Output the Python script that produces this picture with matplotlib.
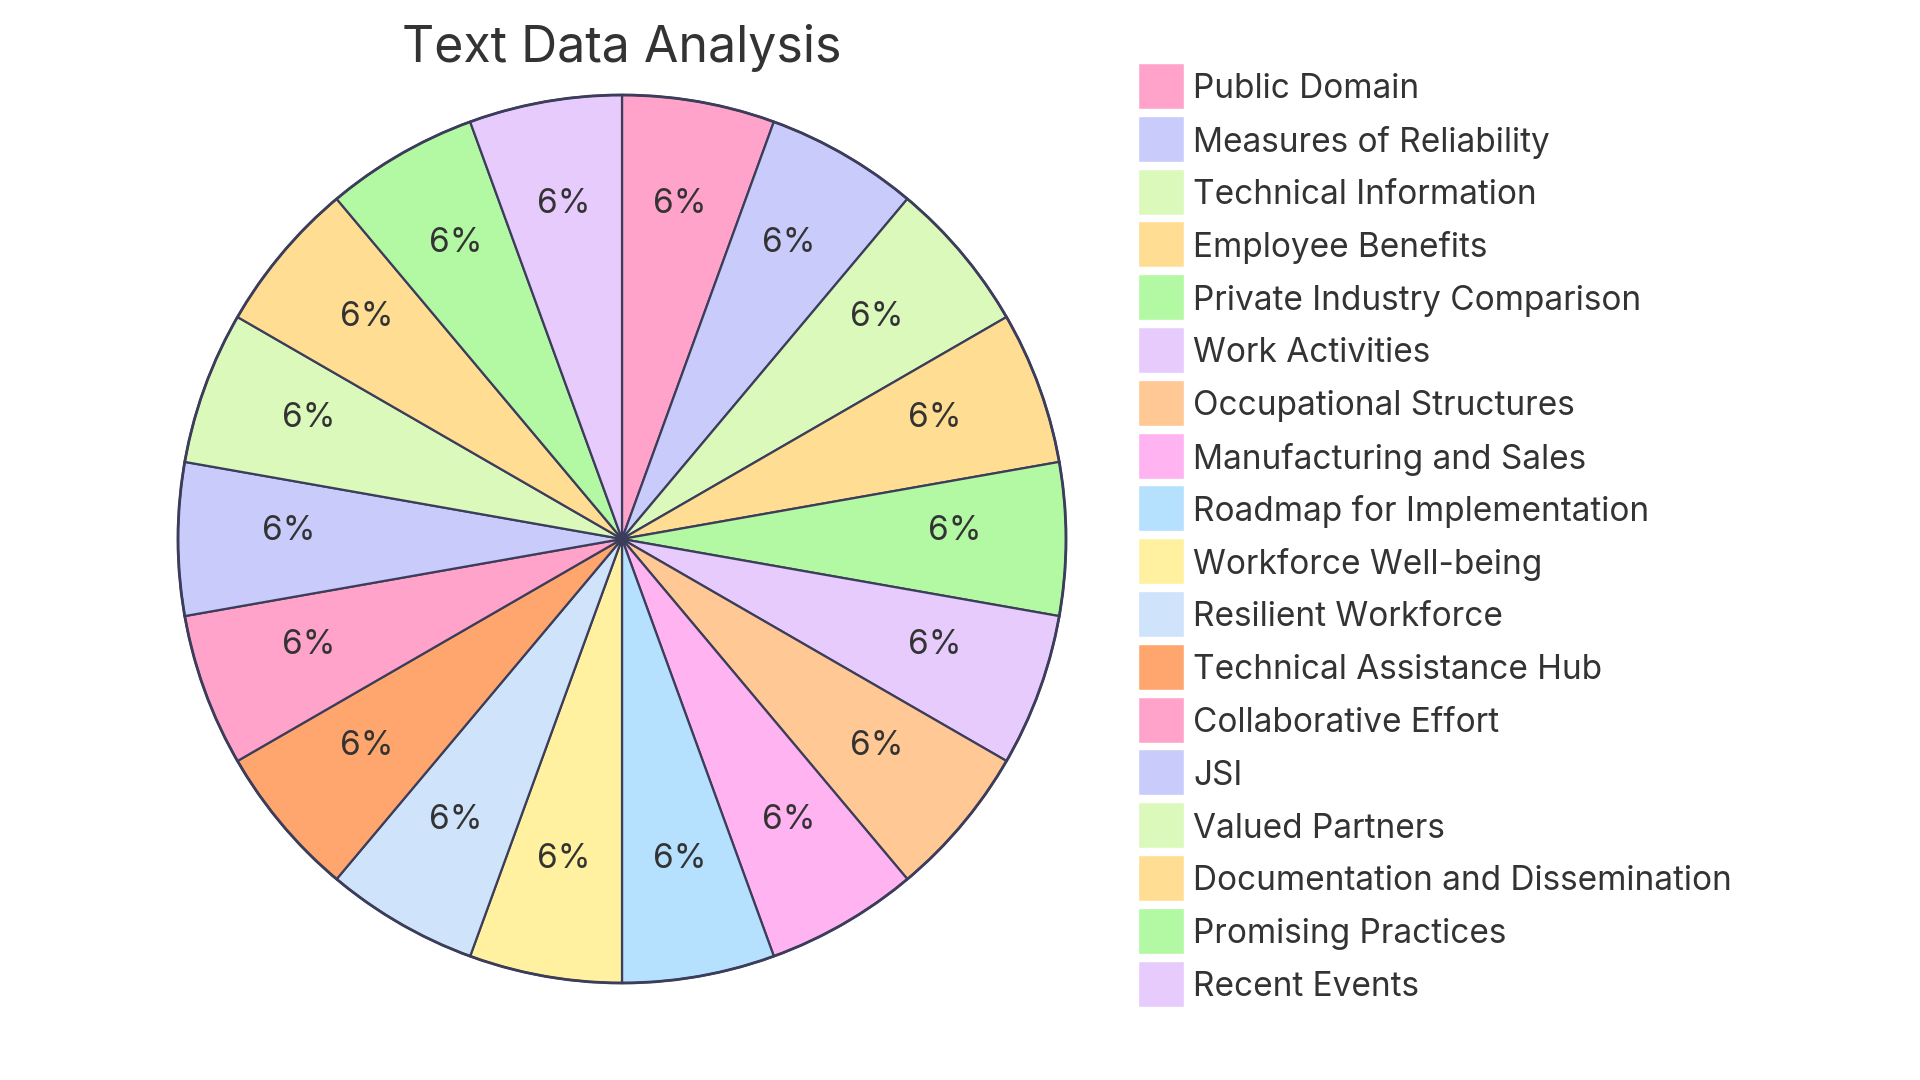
import matplotlib
matplotlib.use("Agg")
import matplotlib.pyplot as plt
from matplotlib.patches import Rectangle

categories = [
    "Public Domain", "Measures of Reliability", "Technical Information",
    "Employee Benefits", "Private Industry Comparison", "Work Activities",
    "Occupational Structures", "Manufacturing and Sales", "Roadmap for Implementation",
    "Workforce Well-being", "Resilient Workforce", "Technical Assistance Hub",
    "Collaborative Effort", "JSI", "Valued Partners",
    "Documentation and Dissemination", "Promising Practices", "Recent Events",
]
values = [1, 1, 1, 1, 1, 1, 1, 1, 1, 1, 1, 1, 1, 1, 1, 1, 1, 1]
colors = [
    "#FFA3CA", "#C9CBFB", "#DBF9BB", "#FFDD93", "#B3F8A2", "#E6CBFC",
    "#FFC895", "#FFB3F1", "#B5E0FE", "#FFF19F", "#CFE3FA", "#FFA66F",
    "#FFA3CA", "#C9CBFB", "#DBF9BB", "#FFDD93", "#B3F8A2", "#E6CBFC",
]
title = "Text Data Analysis"

FONT = ["Inter", "DejaVu Sans"]
TEXT = "#333333"
EDGE = "#3B3D5A"

W, H = 1920, 1080
fig = plt.figure(figsize=(19.2, 10.8), dpi=100)
fig.patch.set_facecolor("white")

cx, cy, R = 622, 539, 444
ax = fig.add_axes([(cx - R) / W, (H - cy - R) / H, 2 * R / W, 2 * R / H])
wedges, texts, autotexts = ax.pie(
    values, colors=colors, startangle=90, counterclock=False, radius=1.0,
    autopct=lambda p: f"{p:.0f}%", pctdistance=0.75,
    wedgeprops=dict(edgecolor=EDGE, linewidth=1.6),
    textprops=dict(fontsize=24, color=TEXT, family=FONT),
)
for t in autotexts:
    x, y = t.get_position()
    t.set_position((x, y + 7.5 / R))
ax.set_xlim(-1, 1)
ax.set_ylim(-1, 1)
ax.set_aspect("equal")
ax.axis("off")
for w in wedges:
    w.set_clip_on(False)
outline = plt.Circle((0, 0), 1.0, fill=False, edgecolor=EDGE, linewidth=2.0, clip_on=False)
ax.add_patch(outline)

fig.text(cx / W, 1 - 47.5 / H, title, ha="center", va="center",
         fontsize=36, color=TEXT, family=FONT)

# legend
sq = 46
x0 = 1138
y_first = 86
step = 52.8
for i, (lab, col) in enumerate(zip(categories, colors)):
    yc = y_first + i * step
    fig.patches.append(Rectangle((x0 / W, (H - yc - sq / 2) / H), sq / W, sq / H,
                                 transform=fig.transFigure, facecolor=col,
                                 edgecolor="white", linewidth=1))
    fig.text(1193 / W, 1 - (yc + 3.5) / H, lab, ha="left", va="center",
             fontsize=24, color=TEXT, family=FONT)

fig.savefig("out.png", dpi=100, facecolor="white")
